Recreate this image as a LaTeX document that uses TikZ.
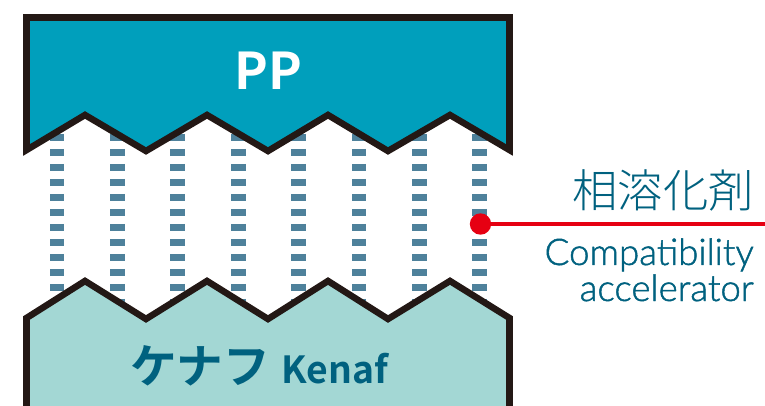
\documentclass[tikz,border=0pt]{standalone}
\usepackage{fontspec}
\usepackage{xcolor}
\usetikzlibrary{positioning}

\IfFontExistsTF{Noto Sans CJK JP Bold}
  {\newfontfamily\jpbold{Noto Sans CJK JP Bold}}
  {\newfontfamily\jpbold{Noto Sans CJK JP}}
\IfFontExistsTF{Noto Sans CJK JP Light}
  {\newfontfamily\jplight{Noto Sans CJK JP Light}}
  {\newfontfamily\jplight{Noto Sans CJK JP}}
\IfFontExistsTF{Lato Light}
  {\newfontfamily\latlight{Lato Light}[FakeBold=1.3]}
  {\newfontfamily\latlight{Lato}}

\definecolor{ppblue}{HTML}{009FBC}
\definecolor{kenafgreen}{HTML}{A3D7D4}
\definecolor{edgeblack}{HTML}{231815}
\definecolor{linkblue}{HTML}{4E819B}
\definecolor{textteal}{HTML}{00617F}
\definecolor{dotred}{HTML}{E60012}

\begin{document}
\begin{tikzpicture}[
  x=0.75pt, y=-0.75pt,
  layer/.style={draw=edgeblack, line width=4.9pt, line join=miter},
  link/.style={linkblue, line width=11pt, dash pattern=on 5.25pt off 6pt},
  txt/.style={textteal, inner sep=0pt}
]
\useasboundingbox (0,0) rectangle (765,406);

\foreach \i in {0,...,7} {
  \coordinate (top\i) at (57+60.4*\i, 104);
  \coordinate (bot\i) at (57+60.4*\i, 335);
  \draw[link] (top\i) -- (bot\i);
}

\draw[layer, fill=ppblue] (26.5,17.5) -- (509.5,17.5) -- (509.5,150)
  -- (450,115) -- (388,151) -- (328,115) -- (268,151) -- (207,115)
  -- (146,151) -- (85,115) -- (26.5,150) -- cycle;
\draw[layer, fill=kenafgreen] (26.5,318) -- (85,281) -- (146,319)
  -- (207,281) -- (268,319) -- (328,281) -- (388,319) -- (450,281)
  -- (509.5,318) -- (509.5,430) -- (26.5,430) -- cycle;

\node[txt, text=white, anchor=base, font=\jpbold\fontsize{38}{40}\selectfont] (pp) at (268,90) {PP};
\node[txt, anchor=base west, font=\jpbold\fontsize{35}{38}\selectfont] (kenafjp) at (130,383) {ケナフ};
\node[txt, base right=8pt of kenafjp, font=\jpbold\fontsize{28}{30}\selectfont] (kenaf) {Kenaf};

\node[circle, fill=dotred, minimum size=16pt, inner sep=0pt] (dot) at (480.5,224) {};
\coordinate (rim) at (765,224);
\draw[dotred, line width=2.3pt] (dot) -- (rim);

\node[txt, anchor=base east, font=\jplight\fontsize{34}{36}\selectfont] (compat) at (754,208) {相溶化剤};
\node[txt, anchor=base east, font=\latlight\fontsize{27.5}{28}\selectfont] (compaten) at (754,265) {Compatibility};
\node[txt, anchor=base east, font=\latlight\fontsize{27.5}{28}\selectfont] (accel) at (754,301) {accelerator};
\end{tikzpicture}
\end{document}
